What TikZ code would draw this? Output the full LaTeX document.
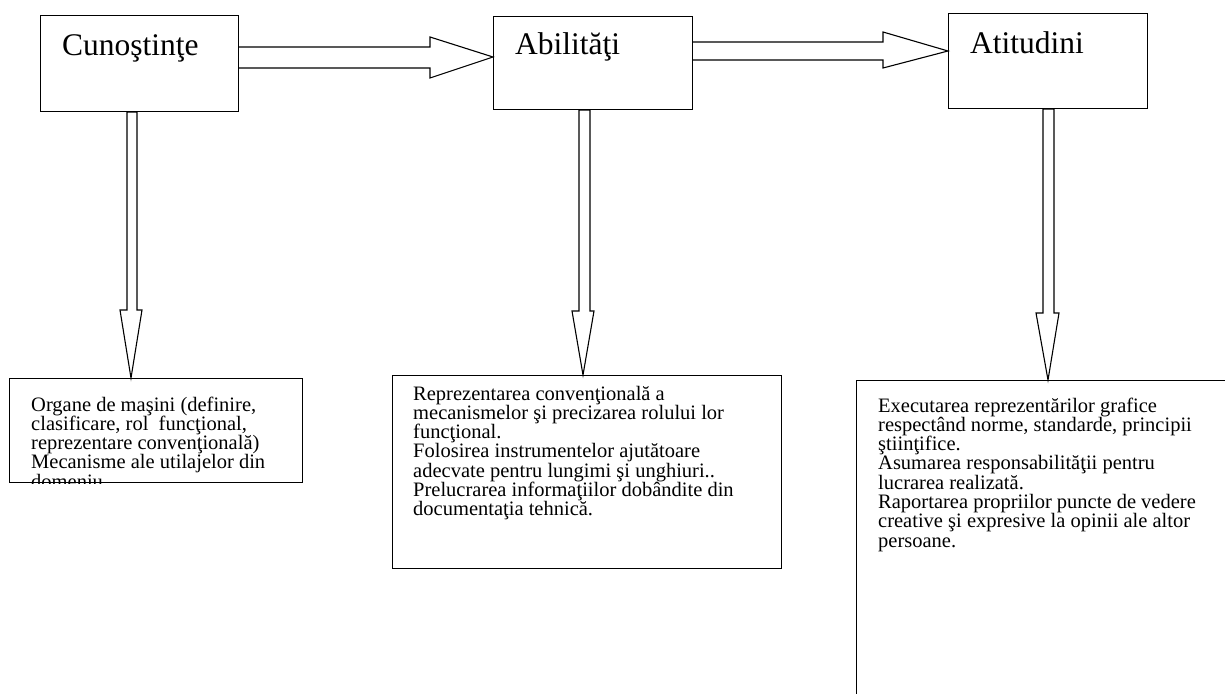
\documentclass[tikz,border=0pt]{standalone}
\usepackage{fontspec}
\setmainfont{Liberation Serif}
\tikzset{cutie/.style={draw, line width=1.1pt, inner sep=0pt, anchor=north west}}
\tikzset{sageata/.style={draw, line width=1.1pt, line join=miter}}
\tikzset{titlu/.style={anchor=base west, inner sep=0pt, font=\fontsize{31.5}{36}\selectfont}}
\tikzset{lista/.style={anchor=base west, inner sep=0pt, font=\fontsize{20.5}{19.3}\selectfont}}
\newcommand{\linii}[1]{\parbox[t]{400pt}{\raggedright #1}}

\begin{document}
\begin{tikzpicture}[x=1pt, y=-1pt]
\clip (0,0) rectangle (1225,693);
% Top row
\node[cutie, minimum width=198pt, minimum height=96pt] (cun) at (40,15) {};
\node[cutie, minimum width=199pt, minimum height=93pt] (abi) at (493,16) {};
\node[cutie, minimum width=199pt, minimum height=95pt] (ati) at (948,13) {};
\node[titlu] (tcun) at (62,56) {Cunoştinţe};
\node[titlu] (tabi) at (515,55) {Abilităţi};
\node[titlu] (tati) at (970,54) {Atitudini};
% Bottom row
\node[cutie, minimum width=293pt, minimum height=104pt] (org) at (9,378) {};
\node[cutie, minimum width=389pt, minimum height=193pt] (rep) at (392,375) {};
\node[cutie, minimum width=384pt, minimum height=340pt] (exe) at (856,380) {};
\begin{scope}
\clip (org.north west) rectangle (org.south east);
\node[lista] (torg) at (31,411) {\linii{Organe de maşini (definire,\\
clasificare, rol\ \ funcţional,\\
reprezentare convenţională)\\
Mecanisme ale utilajelor din\\
domeniu}};
\end{scope}
\node[lista] (trep) at (413,400) {\linii{Reprezentarea convenţională a\\
mecanismelor şi precizarea rolului lor\\
funcţional.\\
Folosirea instrumentelor ajutătoare\\
adecvate pentru lungimi şi unghiuri..\\
Prelucrarea informaţiilor dobândite din\\
documentaţia tehnică.}};
\node[lista] (texe) at (878,412) {\linii{Executarea reprezentărilor grafice\\
respectând norme, standarde, principii\\
ştiinţifice.\\
Asumarea responsabilităţii pentru\\
lucrarea realizată.\\
Raportarea propriilor puncte de vedere\\
creative şi expresive la opinii ale altor\\
persoane.}};
% Block arrows along the top
\draw[sageata] (cun.east |- 0,47) -- (430,47) -- (430,37) -- (abi.west |- 0,57)
  -- (430,78) -- (430,68) -- (cun.east |- 0,68);
\draw[sageata] (abi.east |- 0,42) -- (883,42) -- (883,32) -- (ati.west |- 0,51)
  -- (883,68) -- (883,60) -- (abi.east |- 0,60);
% Block arrows going down
\draw[sageata] (127,0 |- cun.south) -- (127,310) -- (120,310) -- (131,0 |- org.north)
  -- (142,310) -- (137,310) -- (137,0 |- cun.south) -- cycle;
\draw[sageata] (579,0 |- abi.south) -- (579,311) -- (572,311) -- (583,0 |- rep.north)
  -- (594,311) -- (590,311) -- (590,0 |- abi.south) -- cycle;
\draw[sageata] (1043,0 |- ati.south) -- (1043,313) -- (1036,313) -- (1048,0 |- exe.north)
  -- (1059,313) -- (1054,313) -- (1054,0 |- ati.south) -- cycle;
\end{tikzpicture}
\end{document}
